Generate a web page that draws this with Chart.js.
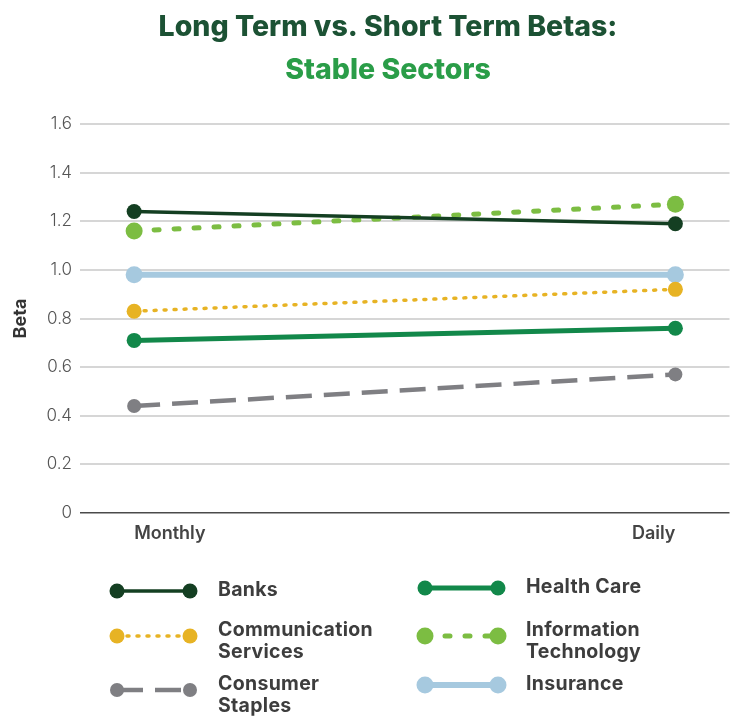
<!DOCTYPE html>
<html><head><meta charset="utf-8">
<script src="https://cdn.jsdelivr.net/npm/chart.js@4/dist/chart.umd.min.js"></script>
<style>html,body{margin:0;padding:0;background:#fff;}#wrap{width:738px;height:719px;}</style>
</head><body><div id="wrap"><canvas id="c" width="738" height="719"></canvas></div>
<script>
const categories = ['Monthly', 'Daily'];
const yTicks = [0, 0.2, 0.4, 0.6, 0.8, 1.0, 1.2, 1.4, 1.6];
const titleLine1 = 'Long Term vs. Short Term Betas:';
const titleLine2 = 'Stable Sectors';
const yAxisTitle = 'Beta';

const banks = [1.24, 1.19];
const communicationServices = [0.83, 0.92];
const consumerStaples = [0.44, 0.57];
const healthCare = [0.71, 0.76];
const informationTechnology = [1.16, 1.27];
const insurance = [0.98, 0.98];

const seriesLabels = [
  ['Banks'], ['Communication', 'Services'], ['Consumer', 'Staples'],
  ['Health Care'], ['Information', 'Technology'], ['Insurance']
];
const seriesValues = [banks, communicationServices, consumerStaples, healthCare, informationTechnology, insurance];
const seriesStyles = [
  {color: '#143f22', width: 3.5, dash: [], cap: 'butt', radius: 7.5},
  {color: '#e7b324', width: 3.5, dash: [2, 8], cap: 'round', radius: 7.5},
  {color: '#7f7f83', width: 4.5, dash: [26, 12], cap: 'butt', radius: 7},
  {color: '#12884a', width: 5, dash: [], cap: 'butt', radius: 7.5},
  {color: '#7cbd42', width: 5, dash: [5, 15], cap: 'round', radius: 8.5},
  {color: '#a6c9df', width: 6, dash: [], cap: 'butt', radius: 8.5}
];

const datasets = seriesValues.map((vals, i) => {
  const s = seriesStyles[i];
  return {
    label: seriesLabels[i].join(' '),
    data: vals.map((v, j) => ({x: j, y: v})),
    borderColor: s.color,
    backgroundColor: s.color,
    borderWidth: s.width,
    borderDash: s.dash,
    borderCapStyle: s.cap,
    pointRadius: s.radius,
    pointHoverRadius: s.radius,
    pointBackgroundColor: s.color,
    pointBorderWidth: 0,
    tension: 0
  };
});

const decor = {
  id: 'decor',
  afterDraw(chart) {
    const ctx = chart.ctx;
    ctx.save();
    ctx.textAlign = 'center';
    ctx.textBaseline = 'alphabetic';
    ctx.font = '800 28.5px Inter';
    ctx.fillStyle = '#1c5234';
    ctx.fillText(titleLine1, 388, 36);
    ctx.fillStyle = '#2a9d48';
    ctx.fillText(titleLine2, 388, 78.5);

    // legend
    const colX = [117, 425];
    const rowY = [[590, 630, 684], [587, 630, 684]];
    const sampleLen = 73;
    const textGap = 101;
    chart.data.datasets.forEach((ds, i) => {
      const col = i < 3 ? 0 : 1;
      const row = i % 3;
      const x0 = colX[col];
      const lines = seriesLabels[i];
      const ty = rowY[col][row];
      const dy = lines.length > 1 ? ty + 6 : ty + 1;
      ctx.save();
      ctx.strokeStyle = ds.borderColor;
      ctx.lineWidth = ds.borderWidth;
      ctx.setLineDash(ds.borderDash);
      ctx.lineCap = ds.borderCapStyle;
      ctx.beginPath();
      ctx.moveTo(x0, dy);
      ctx.lineTo(x0 + sampleLen, dy);
      ctx.stroke();
      ctx.setLineDash([]);
      ctx.fillStyle = ds.pointBackgroundColor;
      [x0, x0 + sampleLen].forEach(px => {
        ctx.beginPath();
        ctx.arc(px, dy, ds.pointRadius, 0, Math.PI * 2);
        ctx.fill();
      });
      ctx.restore();
      ctx.save();
      ctx.font = 'bold 19.5px Inter';
      ctx.letterSpacing = '0.3px';
      ctx.fillStyle = '#3d3d3d';
      ctx.textAlign = 'left';
      ctx.textBaseline = 'middle';
      lines.forEach((t, k) => ctx.fillText(t, x0 + textGap, ty + k * 22));
      ctx.restore();
    });
    ctx.restore();
  }
};

new Chart(document.getElementById('c'), {
  type: 'line',
  data: {datasets},
  plugins: [decor],
  options: {
    responsive: false,
    animation: false,
    devicePixelRatio: 1,
    layout: {padding: {top: 124, bottom: 166, left: 0, right: 6}},
    plugins: {legend: {display: false}, title: {display: false}, tooltip: {enabled: false}},
    scales: {
      x: {
        type: 'linear',
        min: -0.1, max: 1.1,
        afterBuildTicks: s => { s.ticks = categories.map((c, i) => ({value: i})); },
        afterFit: s => { s.height = 40; },
        grid: {display: false, drawTicks: false},
        border: {display: false},
        ticks: {
          align: 'inner',
          padding: 10,
          color: '#444',
          font: {family: 'Inter', size: 18, weight: '600'},
          callback: v => categories[v]
        }
      },
      y: {
        min: 0, max: 1.6,
        afterBuildTicks: s => { s.ticks = yTicks.map(v => ({value: v})); },
        afterFit: s => { s.width = 80; },
        grid: {
          drawTicks: false,
          color: c => c.tick && c.tick.value === 0 ? '#4a4a4a' : '#d6d6d6',
          lineWidth: c => c.tick && c.tick.value === 0 ? 1.5 : 2
        },
        border: {display: false},
        ticks: {
          padding: 8,
          color: '#555',
          font: {family: 'Inter', size: 17, weight: '300'},
          callback: v => v === 0 ? '0' : v.toFixed(1)
        },
        title: {
          display: true,
          text: yAxisTitle,
          color: '#333',
          font: {family: 'Inter', size: 18, weight: 'bold'},
          padding: {top: 10, bottom: 0}
        }
      }
    }
  }
});
</script>
</body></html>
